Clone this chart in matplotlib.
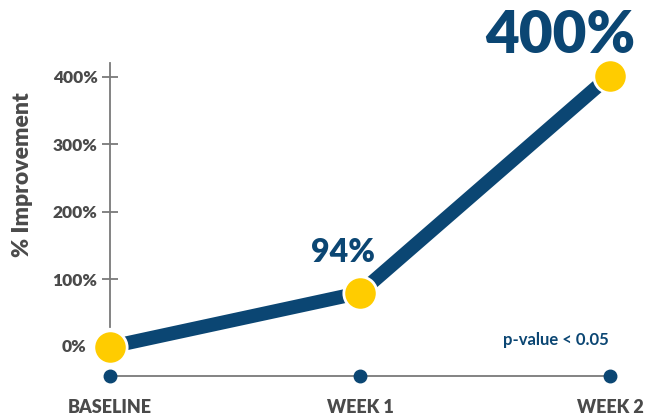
import matplotlib
matplotlib.use("Agg")
import matplotlib.pyplot as plt

# -----------------------------
# Data
# -----------------------------
timepoints = ["BASELINE", "WEEK 1", "WEEK 2"]
improvement = [0, 80, 402]
point_labels = ["", "94%", "400%"]
y_ticks = [0, 100, 200, 300, 400]
note = "p-value < 0.05"

navy = "#0b4673"
yellow = "#ffcc00"
gray = "#7a7a7a"
text_gray = "#4a4a4a"

plt.rcParams["font.family"] = ["Lato", "DejaVu Sans"]

fig = plt.figure(figsize=(6.6, 4.19), dpi=100)
ax = fig.add_axes([0, 0, 1, 1])
ax.set_xlim(-0.44, 2.2)
ax.set_ylim(-107, 514)

x = list(range(len(timepoints)))

# axis lines drawn as spines
for side in ["top", "right"]:
    ax.spines[side].set_visible(False)
ax.spines["left"].set_position(("data", 0))
ax.spines["left"].set_bounds(30, 420)
ax.spines["left"].set_color(gray)
ax.spines["left"].set_linewidth(1.3)
ax.spines["bottom"].set_position(("data", -43))
ax.spines["bottom"].set_bounds(0, 2)
ax.spines["bottom"].set_color(gray)
ax.spines["bottom"].set_linewidth(1.3)

ax.set_yticks(y_ticks[1:])
ax.set_yticklabels([f"{v}%" for v in y_ticks[1:]])
ax.tick_params(axis="y", direction="inout", length=12, width=1.3, color=gray,
               labelsize=12.5, labelcolor=text_gray, pad=3)
for lab in ax.get_yticklabels():
    lab.set_fontweight("heavy")
ax.text(-0.095, 0, "0%", ha="right", va="center", fontsize=12.5,
        fontweight="heavy", color=text_gray)

ax.set_xticks([])
ax.plot(x, [-43] * len(x), "o", color=navy, markersize=9, zorder=3, clip_on=False)
for xi, name in zip(x, timepoints):
    ax.text(xi, -90, name, ha="center", va="center", fontsize=13,
            fontweight="heavy", color=text_gray)

ax.text(-0.35, 255, "% Improvement", rotation=90, ha="center", va="center",
        fontsize=16.5, fontweight="heavy", color=text_gray)

# main line
ax.plot(x, improvement, color=navy, linewidth=10, solid_capstyle="butt", zorder=4)
ax.plot(x, improvement, "o", color=yellow, markersize=24, markeredgecolor="white",
        markeredgewidth=2, zorder=5, clip_on=False)

ax.text(0.93, 140, point_labels[1], ha="center", va="center",
        fontsize=23, fontweight="heavy", color=navy)
ax.text(1.8, 462, point_labels[2], ha="center", va="center",
        fontsize=42, fontweight="heavy", color=navy)
ax.text(1.995, 10, note, ha="right", va="center", fontsize=12,
        fontweight="bold", color=navy)

fig.savefig("out.png", dpi=100)
